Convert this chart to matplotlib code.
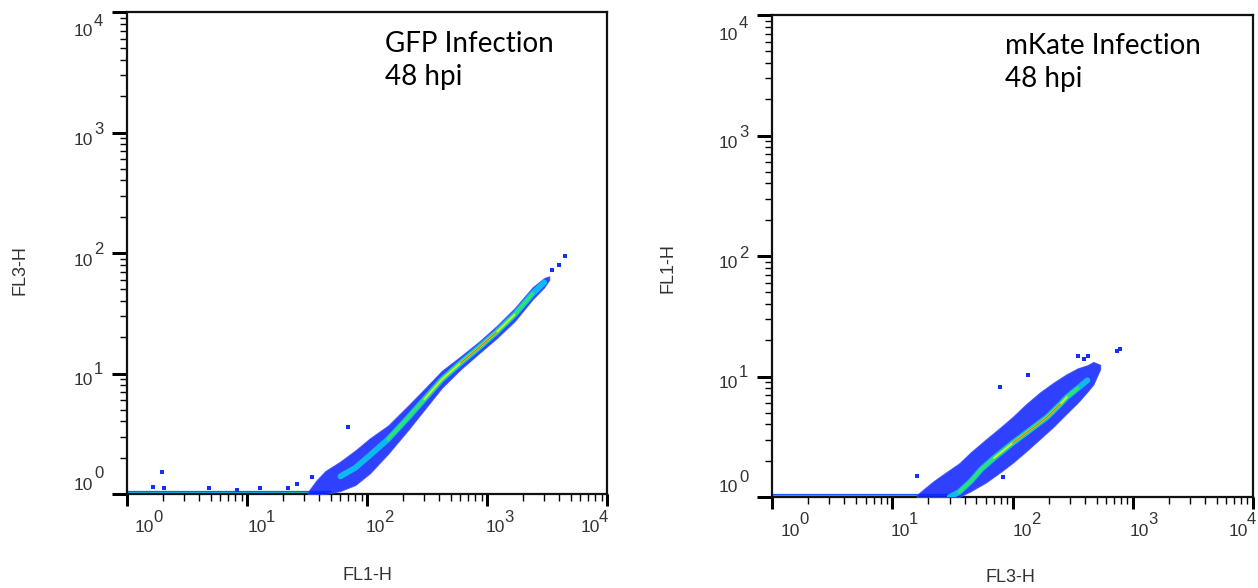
import matplotlib
matplotlib.use("Agg")
import matplotlib.pyplot as plt
from matplotlib.ticker import LogLocator, NullFormatter, FixedLocator

W, H = 1258, 588
DPI = 100

# ---------------- data ----------------
# GFP infection panel: FL1-H (x) vs FL3-H (y)
gfp_band_x  = [32, 38, 45, 60, 80, 106, 150, 220, 300, 420, 600, 850, 1200, 1700, 2400, 3000, 3300]
gfp_band_lo = [1.0, 1.0, 1.0, 1.06, 1.19, 1.49, 2.16, 3.4, 5.0, 7.6, 10.8, 14.6, 19.6, 27.2, 41.4, 52, 60]
gfp_band_hi = [1.03, 1.3, 1.55, 1.86, 2.3, 2.9, 3.7, 5.4, 7.4, 10.5, 13.8, 18.2, 24.7, 34.8, 51.9, 62, 64]
gfp_ridge_x = [60, 80, 106, 150, 220, 300, 420, 600, 850, 1200, 1700, 2400, 3000]
gfp_ridge_y = [1.4, 1.65, 2.1, 2.85, 4.3, 6.1, 8.9, 12.2, 16.3, 22, 30.8, 46, 57]
gfp_base_x = [1.0, 50]
gfp_base_green_x = [20, 48]
gfp_out_x = [1.65, 1.95, 2.05, 4.8, 8.3, 12.8, 22, 26, 34.7, 69.6, 3500, 4000, 4470]
gfp_out_y = [1.14, 1.52, 1.12, 1.12, 1.08, 1.12, 1.12, 1.2, 1.38, 3.6, 72, 80, 95]

# mKate infection panel: FL3-H (x) vs FL1-H (y)
mk_band_x  = [16, 22, 28, 36, 45, 60, 80, 100, 130, 170, 220, 280, 350, 420, 470, 535]
mk_band_lo = [1.0, 1.0, 1.0, 1.0, 1.12, 1.32, 1.62, 1.92, 2.4, 3.05, 3.85, 4.9, 6.1, 7.5, 8.6, 11.5]
mk_band_hi = [1.04, 1.35, 1.6, 1.9, 2.35, 3.0, 3.8, 4.6, 5.9, 7.4, 8.9, 10.4, 11.7, 12.4, 13.2, 12.5]
mk_ridge_x = [30, 36, 45, 55, 70, 100, 140, 194, 250, 284, 350, 420]
mk_ridge_y = [1.0, 1.1, 1.35, 1.7, 2.1, 2.8, 3.6, 4.6, 5.9, 6.75, 8.0, 9.3]
mk_base_x = [1.0, 32]
mk_base_green_x = [10, 25]
mk_out_x = [16, 79, 134, 83, 350, 390, 425, 740, 780]
mk_out_y = [1.5, 8.2, 10.3, 1.46, 14.8, 14.0, 14.8, 16.3, 16.8]

decades = [1, 10, 100, 1000, 10000]
exponents = ["0", "1", "2", "3", "4"]

panels = [
    dict(rect=(127, 12, 607, 494), band=(gfp_band_x, gfp_band_lo, gfp_band_hi),
         ridge=(gfp_ridge_x, gfp_ridge_y), base=gfp_base_x, base_g=gfp_base_green_x,
         out=(gfp_out_x, gfp_out_y),
         cyan=(55, 3000), green=(140, 2500), yellow=(300, 2000), red=(450, 1500),
         text="GFP Infection\n48 hpi", text_pos=(385, 31),
         xlab=("FL1-H", 367, 575), ylab=("FL3-H", 20, 270),
         xdx=[17, 10, 8, 8, -17]),
    dict(rect=(772, 15, 1253, 497), band=(mk_band_x, mk_band_lo, mk_band_hi),
         ridge=(mk_ridge_x, mk_ridge_y), base=mk_base_x, base_g=mk_base_green_x,
         out=(mk_out_x, mk_out_y),
         cyan=(30, 430), green=(36, 400), yellow=(60, 300), red=(80, 250),
         text="mKate Infection\n48 hpi", text_pos=(1005, 33),
         xlab=("FL3-H", 1010, 578), ylab=("FL1-H", 668, 268),
         xdx=[18, 8, 10, 7, -15]),
]

ydy = [-9, 7, 8, 8, 20]

fig = plt.figure(figsize=(W / DPI, H / DPI), dpi=DPI)
fig.patch.set_facecolor("white")

PT = 0.72  # points per pixel
TICKFONT = ["Liberation Sans", "DejaVu Sans"]


def sub_range(xs, ys, lo, hi):
    px, py = [], []
    for a, b in zip(xs, ys):
        if lo <= a <= hi:
            px.append(a)
            py.append(b)
    return px, py


for p in panels:
    x0, y0, x1, y1 = p["rect"]
    ax = fig.add_axes([x0 / W, 1 - y1 / H, (x1 - x0) / W, (y1 - y0) / H])
    ax.set_xscale("log")
    ax.set_yscale("log")
    ax.set_xlim(1, 10000)
    ax.set_ylim(1, 10000)

    # baseline of pinned events
    ax.plot(p["base"], [1, 1], color="#1060ff", lw=4.5, solid_capstyle="butt", zorder=2)
    ax.plot(p["base"], [1, 1], color="#20c8e8", lw=2.6, solid_capstyle="butt", zorder=2)
    ax.plot(p["base_g"], [1, 1], color="#50e050", lw=2.4, solid_capstyle="butt", zorder=2)

    bx, blo, bhi = p["band"]
    ax.fill_between(bx, blo, bhi, color="#0a1eff", alpha=0.85, lw=0.8,
                    edgecolor="#3a4cff", zorder=3)

    rx, ry = p["ridge"]
    for key, col, lw in (("cyan", "#10b8f0", 4.2), ("green", "#30e070", 2.6),
                         ("yellow", "#d8f020", 1.3), ("red", "#f04010", 0.6)):
        sx, sy = sub_range(rx, ry, *p[key])
        ax.plot(sx, sy, color=col, lw=lw, solid_capstyle="round", zorder=4)

    ox, oy = p["out"]
    ax.scatter(ox, oy, s=5, marker="s", color="#1030ff", linewidths=0, zorder=5)

    # axes styling
    for s in ax.spines.values():
        s.set_linewidth(1.6)
        s.set_color("#111111")
    ax.xaxis.set_major_locator(FixedLocator(decades))
    ax.yaxis.set_major_locator(FixedLocator(decades))
    ax.xaxis.set_minor_locator(LogLocator(base=10, subs=range(2, 10), numticks=20))
    ax.yaxis.set_minor_locator(LogLocator(base=10, subs=range(2, 10), numticks=20))
    ax.xaxis.set_major_formatter(NullFormatter())
    ax.yaxis.set_major_formatter(NullFormatter())
    ax.xaxis.set_minor_formatter(NullFormatter())
    ax.yaxis.set_minor_formatter(NullFormatter())
    ax.tick_params(which="major", axis="x", direction="out", length=12 * PT, width=3 * PT,
                   color="black", top=False)
    ax.tick_params(which="major", axis="y", direction="out", length=15 * PT, width=3 * PT,
                   color="black", right=False)
    ax.tick_params(which="minor", direction="out", length=7 * PT, width=1.4 * PT,
                   color="black", top=False, right=False)

    # tick labels (10 + raised exponent)
    for v, e, dx in zip(decades, exponents, p["xdx"]):
        ax.annotate("10", xy=(v, 1), xycoords="data", xytext=(dx * PT, -34 * PT),
                    textcoords="offset points", ha="center", va="center",
                    fontsize=12.5, family=TICKFONT, color="#333333", annotation_clip=False)
        ax.annotate(e, xy=(v, 1), xycoords="data", xytext=((dx + 9) * PT, -23 * PT),
                    textcoords="offset points", ha="left", va="center",
                    fontsize=12, family=TICKFONT, color="#333333", annotation_clip=False)
    for v, e, dy in zip(decades, exponents, ydy):
        ax.annotate("10", xy=(1, v), xycoords="data", xytext=(-34 * PT, -dy * PT),
                    textcoords="offset points", ha="right", va="center",
                    fontsize=12.5, family=TICKFONT, color="#333333", annotation_clip=False)
        ax.annotate(e, xy=(1, v), xycoords="data", xytext=(-33 * PT, -(dy - 11) * PT),
                    textcoords="offset points", ha="left", va="center",
                    fontsize=12, family=TICKFONT, color="#333333", annotation_clip=False)

    tx, ty = p["text_pos"]
    fig.text(tx / W, 1 - ty / H, p["text"], ha="left", va="top", fontsize=20,
             family=["Lato", "DejaVu Sans"], color="black", linespacing=1.35)

    lab, lx, ly = p["xlab"]
    fig.text(lx / W, 1 - ly / H, lab, ha="center", va="center", fontsize=13,
             family=TICKFONT, color="#333333")
    lab, lx, ly = p["ylab"]
    fig.text(lx / W, 1 - ly / H, lab, ha="center", va="center", fontsize=13, rotation=90,
             family=TICKFONT, color="#333333")

fig.savefig("out.png", dpi=DPI, facecolor="white")
